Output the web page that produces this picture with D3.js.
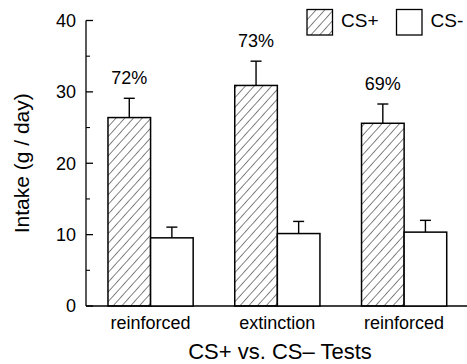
<!DOCTYPE html>
<html>
<head>
<meta charset="utf-8">
<script src="https://cdn.jsdelivr.net/npm/d3@7"></script>
<style>
  body { margin: 0; background: #fff; }
  svg { display: block; font-family: "Liberation Sans", Arial, sans-serif; }
</style>
</head>
<body>
<svg id="chart" width="467" height="364"></svg>
<script>
// data
const tests = ["reinforced", "extinction", "reinforced"];
const csPlus = [26.4, 30.9, 25.6];
const csPlusErr = [2.7, 3.4, 2.7];
const csMinus = [9.55, 10.15, 10.35];
const csMinusErr = [1.5, 1.7, 1.65];
const pctLabels = ["72%", "73%", "69%"];
const yTicks = [0, 10, 20, 30, 40];
const yMinor = [5, 15, 25, 35];

const svg = d3.select("#chart");
const axL = 86, axR = 467, axT = 20.5, axB = 306;

const y = d3.scaleLinear().domain([0, 40]).range([axB, axT]);
const x = d3.scaleBand().domain(d3.range(tests.length)).range([95.3, 459.4]).paddingInner(0.328).paddingOuter(0.1);
const sub = d3.scaleBand().domain(["plus", "minus"]).range([0, x.bandwidth()]);

// hatch pattern ( "/" lines )
svg.append("defs").append("pattern")
  .attr("id", "hatch").attr("patternUnits", "userSpaceOnUse")
  .attr("width", 6.5).attr("height", 6.5)
  .attr("patternTransform", "rotate(42)")
  .append("line")
  .attr("x1", 0).attr("y1", 0).attr("x2", 0).attr("y2", 6.5)
  .attr("stroke", "#111").attr("stroke-width", 1.05);

// axes
svg.append("line").attr("x1", axL).attr("x2", axL).attr("y1", axT).attr("y2", axB)
  .attr("stroke", "#000").attr("stroke-width", 1.3);
svg.append("line").attr("x1", axL).attr("x2", axR).attr("y1", axB).attr("y2", axB)
  .attr("stroke", "#000").attr("stroke-width", 1.5);

svg.selectAll(".ytick").data(yTicks).enter().append("line")
  .attr("x1", axL).attr("x2", axL + 7)
  .attr("y1", d => y(d)).attr("y2", d => y(d))
  .attr("stroke", "#000").attr("stroke-width", 1.3);
svg.selectAll(".yminor").data(yMinor).enter().append("line")
  .attr("x1", axL).attr("x2", axL + 4)
  .attr("y1", d => y(d)).attr("y2", d => y(d))
  .attr("stroke", "#000").attr("stroke-width", 1.1);
svg.selectAll(".ylab").data(yTicks).enter().append("text")
  .attr("x", 76).attr("y", d => y(d)).attr("dy", "0.36em")
  .attr("text-anchor", "end").attr("font-size", 18)
  .text(d => d);

svg.append("text")
  .attr("transform", `translate(29,${(axT + axB) / 2}) rotate(-90)`)
  .attr("text-anchor", "middle").attr("font-size", 21)
  .text("Intake (g / day)");

// bars
const g = svg.selectAll(".grp").data(tests).enter().append("g")
  .attr("transform", (d, i) => `translate(${x(i)},0)`);

function drawBars(vals, errs, key, fill) {
  const cx = sub(key) + sub.bandwidth() / 2;
  g.append("line")
    .attr("x1", cx).attr("x2", cx)
    .attr("y1", (d, i) => y(vals[i])).attr("y2", (d, i) => y(vals[i] + errs[i]))
    .attr("stroke", "#000").attr("stroke-width", 1.4);
  g.append("line")
    .attr("x1", cx - 5.5).attr("x2", cx + 5.5)
    .attr("y1", (d, i) => y(vals[i] + errs[i])).attr("y2", (d, i) => y(vals[i] + errs[i]))
    .attr("stroke", "#000").attr("stroke-width", 1.4);
  g.append("rect")
    .attr("x", sub(key)).attr("width", sub.bandwidth())
    .attr("y", (d, i) => y(vals[i])).attr("height", (d, i) => axB - y(vals[i]))
    .attr("fill", fill).attr("stroke", "#000").attr("stroke-width", 1.5);
}
drawBars(csPlus, csPlusErr, "plus", "url(#hatch)");
drawBars(csMinus, csMinusErr, "minus", "#fff");

g.append("text")
  .attr("x", sub("plus") + sub.bandwidth() / 2)
  .attr("y", (d, i) => y(csPlus[i] + csPlusErr[i]) - 14)
  .attr("text-anchor", "middle").attr("font-size", 18)
  .text((d, i) => pctLabels[i]);

g.append("text")
  .attr("x", x.bandwidth() / 2).attr("y", 329)
  .attr("text-anchor", "middle").attr("font-size", 18)
  .text(d => d);

svg.append("text")
  .attr("x", 280).attr("y", 358.5)
  .attr("text-anchor", "middle").attr("font-size", 22)
  .text("CS+ vs. CS\u2013 Tests");

// legend
const legend = [["CS+", "url(#hatch)", 307], ["CS-", "#fff", 396.5]];
const lg = svg.selectAll(".leg").data(legend).enter().append("g")
  .attr("transform", d => `translate(${d[2]},9.5)`);
lg.append("rect").attr("width", 25.5).attr("height", 25.5)
  .attr("fill", d => d[1]).attr("stroke", "#000").attr("stroke-width", 1.3);
lg.append("text").attr("x", 34).attr("y", 10.5).attr("dy", "0.36em")
  .attr("font-size", 19).text(d => d[0]);
</script>
</body>
</html>
